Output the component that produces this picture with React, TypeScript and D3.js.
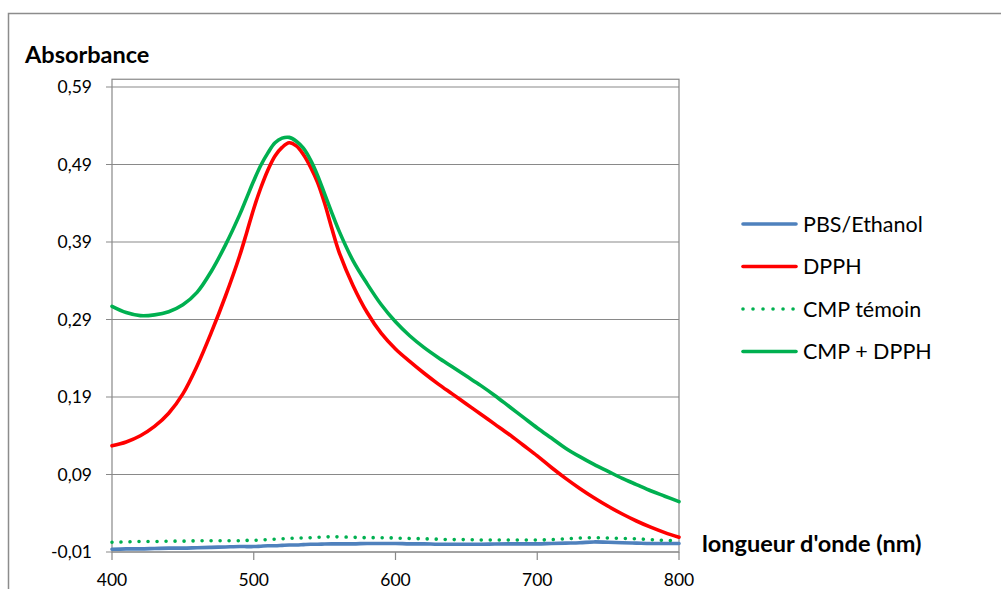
import React from "react";
import * as d3 from "d3";

const wavelengths = [400, 410, 420, 430, 440, 450, 460, 470, 480, 490, 495, 500, 505, 510, 515, 520, 525, 530, 535, 540, 545, 550, 555, 560, 570, 580, 590, 600, 610, 620, 630, 640, 650, 660, 670, 680, 690, 700, 710, 720, 730, 740, 750, 760, 770, 780, 790, 800];

const pbsEthanol = [-0.0065, -0.006, -0.006, -0.0055, -0.005, -0.005, -0.0045, -0.004, -0.0035, -0.003, -0.003, -0.003, -0.0025, -0.002, -0.002, -0.0015, -0.001, -0.001, -0.0005, 0.0, 0.0, 0.0003, 0.0005, 0.0005, 0.0005, 0.001, 0.001, 0.001, 0.0005, 0.0005, 0.0, 0.0, 0.0, 0.0, 0.0003, 0.0005, 0.0005, 0.0005, 0.001, 0.0015, 0.002, 0.003, 0.0025, 0.002, 0.0015, 0.001, 0.001, 0.001];

const dpph = [0.127, 0.132, 0.14, 0.152, 0.169, 0.194, 0.23, 0.273, 0.32, 0.372, 0.402, 0.433, 0.46, 0.483, 0.501, 0.512, 0.518, 0.514, 0.503, 0.487, 0.467, 0.44, 0.408, 0.378, 0.334, 0.299, 0.272, 0.252, 0.236, 0.221, 0.207, 0.194, 0.181, 0.168, 0.155, 0.142, 0.128, 0.114, 0.099, 0.085, 0.072, 0.06, 0.049, 0.039, 0.03, 0.022, 0.015, 0.009];

const cmpTemoin = [0.0025, 0.003, 0.0035, 0.0035, 0.004, 0.004, 0.0045, 0.0045, 0.0045, 0.0045, 0.005, 0.005, 0.0055, 0.006, 0.0065, 0.007, 0.0075, 0.008, 0.008, 0.0085, 0.009, 0.0095, 0.0095, 0.0095, 0.009, 0.0085, 0.0085, 0.008, 0.0075, 0.007, 0.0065, 0.006, 0.006, 0.0055, 0.0055, 0.0055, 0.0055, 0.0055, 0.006, 0.007, 0.008, 0.0085, 0.008, 0.0075, 0.007, 0.006, 0.005, 0.0045];

const cmpDpph = [0.307, 0.299, 0.295, 0.296, 0.3, 0.309, 0.325, 0.352, 0.386, 0.425, 0.447, 0.469, 0.489, 0.505, 0.518, 0.524, 0.525, 0.52, 0.511, 0.496, 0.476, 0.452, 0.428, 0.405, 0.366, 0.336, 0.309, 0.287, 0.269, 0.254, 0.241, 0.229, 0.217, 0.205, 0.192, 0.178, 0.164, 0.15, 0.137, 0.124, 0.113, 0.103, 0.094, 0.085, 0.077, 0.069, 0.062, 0.055];

const yTicks = [-0.01, 0.09, 0.19, 0.29, 0.39, 0.49, 0.59];
const xTicks = [400, 500, 600, 700, 800];

const seriesNames = ["PBS/Ethanol", "DPPH", "CMP témoin", "CMP + DPPH"];
const seriesColors = ["#4F81BD", "#FF0000", "#00B050", "#00B050"];
const seriesData = [pbsEthanol, dpph, cmpTemoin, cmpDpph];
const seriesDotted = [false, false, true, false];

const yLabel = "Absorbance";
const xLabel = "longueur d'onde (nm)";

export default function App() {
  const W = 1001, H = 589;
  const left = 112, right = 679, top = 79.25, bottom = 552;
  const x = d3.scaleLinear().domain([400, 800]).range([left, right]);
  const y = d3.scaleLinear().domain([-0.01, 0.6]).range([bottom, top]);
  const font = "Lato, 'Open Sans', sans-serif";
  const grid = "#898989";

  const line = (vals: number[]) =>
    d3.line<number>()
      .x((_, i) => x(wavelengths[i]))
      .y((v) => y(v))
      .curve(d3.curveCatmullRom.alpha(0.5))(vals) || "";

  const fmt = (v: number) => v.toFixed(2).replace(".", ",");

  return (
    <svg width={W} height={H} style={{ position: "absolute", left: 0, top: 0, background: "#fff" }}>
      <rect x={8.5} y={13.5} width={1100} height={700} fill="#fff" stroke="#8c8c8c" strokeWidth={1.5} />
      <text x={25} y={63} fontFamily={font} fontWeight="bold" fontSize={23.5} fill="#000">{yLabel}</text>

      <rect x={left} y={top} width={right - left} height={bottom - top} fill="none" stroke={grid} strokeWidth={1.2} />
      {yTicks.map((t) => (
        <g key={t}>
          <line x1={left - 6} x2={right} y1={y(t)} y2={y(t)} stroke={grid} strokeWidth={1.2} />
          <text x={92} y={y(t)} dy="0.36em" textAnchor="end" fontFamily={font} fontSize={17.5} fill="#000">{fmt(t)}</text>
        </g>
      ))}
      {xTicks.map((t) => (
        <g key={t}>
          <line x1={x(t)} x2={x(t)} y1={bottom} y2={bottom + 8} stroke={grid} strokeWidth={1.2} />
          <text x={x(t)} y={586} textAnchor="middle" fontFamily={font} fontSize={17.5} fill="#000">{t}</text>
        </g>
      ))}

      {seriesData.map((vals, i) => (
        <path key={i} d={line(vals)} fill="none" stroke={seriesColors[i]}
          strokeWidth={3.6}
          strokeLinecap="round" strokeLinejoin="round"
          strokeDasharray={seriesDotted[i] ? "0.01 9" : undefined} />
      ))}

      <text x={702} y={552} fontFamily={font} fontWeight="bold" fontSize={23.5} fill="#000">{xLabel}</text>

      {seriesNames.map((n, i) => {
        const cy = 224 + i * 42.5;
        return (
          <g key={n}>
            <line x1={743} x2={796} y1={cy} y2={cy} stroke={seriesColors[i]} strokeWidth={3.6}
              strokeLinecap="round" strokeDasharray={seriesDotted[i] ? "0.01 10" : undefined} />
            <text x={803} y={cy} dy="0.36em" fontFamily={font} fontSize={21.5} fill="#000">{n}</text>
          </g>
        );
      })}
    </svg>
  );
}
